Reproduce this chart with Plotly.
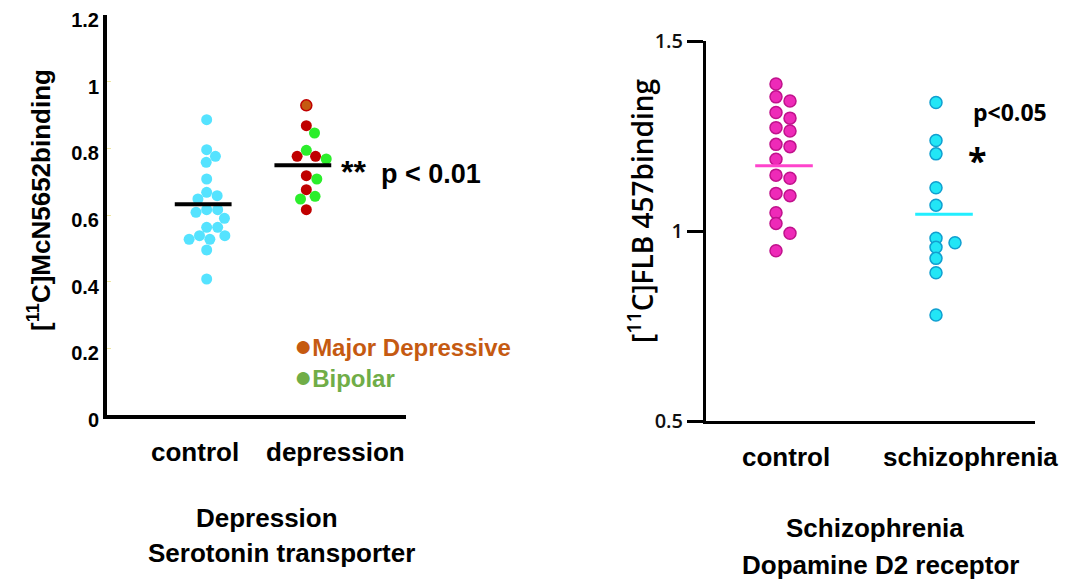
import numpy as np
import plotly.graph_objects as go

W, H = 1068, 585
PAGE_OFF = 8   # default page margin around the figure div

# ---------------- data ----------------
# Left panel: Depression / serotonin transporter ([11C]McN5652 binding)
dep_categories = ["control", "depression"]
dep_control = [0.886, 0.796, 0.776, 0.758, 0.708, 0.668, 0.658, 0.648, 0.616, 0.616,
               0.608, 0.590, 0.563, 0.563, 0.538, 0.538, 0.527, 0.527, 0.495, 0.408]
dep_other = [0.929]                       # top point (orange with red rim)
dep_major = [0.868, 0.776, 0.776, 0.718, 0.676, 0.616]
dep_bipolar = [0.846, 0.794, 0.768, 0.708, 0.656, 0.648]
dep_means = [0.632, 0.749]
dep_tickvals = [0, 0.2, 0.4, 0.6, 0.8, 1.0, 1.2]
dep_ticktext = ["0", "0.2", "0.4", "0.6", "0.8", "1", "1.2"]

# Right panel: Schizophrenia / dopamine D2 receptor ([11C]FLB 457 binding)
scz_categories = ["control", "schizophrenia"]
scz_control = [1.387, 1.353, 1.342, 1.312, 1.297, 1.272, 1.263, 1.228, 1.222, 1.189,
               1.147, 1.139, 1.099, 1.093, 1.048, 1.020, 0.994, 0.948]
scz_patient = [1.338, 1.238, 1.203, 1.114, 1.068, 0.981, 0.969, 0.957, 0.928, 0.890, 0.779]
scz_means = [1.172, 1.044]
scz_tickvals = [0.5, 1.0, 1.5]
scz_ticktext = ["0.5", "1", "1.5"]

# ---------------- layout geometry (screen pixels) ----------------
L_X0, L_X1, L_Y0, L_Y1 = 107, 406, 415, 15      # left plot box
R_X0, R_X1, R_Y0, R_Y1 = 706, 1035, 421, 41     # right plot box
L_XRANGE = [0, 3]
R_XRANGE = [0.5625, 0.5625 + (R_X1 - R_X0) / 160.0]
L_YRANGE = [0, 1.2]
R_YRANGE = [0.5, 1.5]

l_xpx = (L_X1 - L_X0) / (L_XRANGE[1] - L_XRANGE[0])
r_xpx = (R_X1 - R_X0) / (R_XRANGE[1] - R_XRANGE[0])
l_ypx = (L_Y0 - L_Y1) / (L_YRANGE[1] - L_YRANGE[0])
r_ypx = (R_Y0 - R_Y1) / (R_YRANGE[1] - R_YRANGE[0])


def swarm(values, d_px, ypx, prefer=1, step=None):
    """Simple beeswarm: pixel offsets so markers do not overlap.
    If step is given, offsets are restricted to multiples of step (column layout)."""
    vals = np.asarray(values, dtype=float)
    order = np.argsort(-vals, kind="stable")
    placed = []
    offs = np.zeros(len(vals))
    for i in order:
        y = vals[i] * ypx
        if step is None:
            cands = [0.0]
            for yy, xx in placed:
                dy = abs(y - yy)
                if dy < d_px:
                    dx = np.sqrt(d_px ** 2 - dy ** 2)
                    cands += [xx + dx, xx - dx]
            cands = sorted(set(cands), key=lambda c: (abs(c), -prefer * c))

            def ok(c):
                return all((c - xx) ** 2 + (y - yy) ** 2 >= d_px ** 2 - 1e-6 for yy, xx in placed)
        else:
            cands = [0.0]
            for k in range(1, 6):
                cands += [prefer * k * step, -prefer * k * step]

            def ok(c):
                return all(abs(c - xx) > 1e-6 or abs(y - yy) >= d_px for yy, xx in placed)
        for c in cands:
            if ok(c):
                offs[i] = c
                break
        placed.append((y, offs[i]))
    return offs


fig = go.Figure()

# ---------- left panel ----------
off = swarm(dep_control, 11, l_ypx) / l_xpx
fig.add_trace(go.Scatter(x=1 + off, y=dep_control, mode="markers", xaxis="x", yaxis="y",
                         marker=dict(size=11, color="#55E3FF", line=dict(width=0)),
                         showlegend=False, hoverinfo="y"))

dep_all = dep_other + dep_major + dep_bipolar
off = swarm(dep_all, 11, l_ypx) / l_xpx
n1, n2 = len(dep_other), len(dep_major)
groups = [
    (slice(0, n1), "#C55A11", "#C00000", 1.5),
    (slice(n1, n1 + n2), "#C00000", "#C00000", 0),
    (slice(n1 + n2, None), "#2BEE2B", "#2BEE2B", 0),
]
for sl, fill, rim, lw in groups:
    fig.add_trace(go.Scatter(x=(2 + off)[sl], y=np.asarray(dep_all)[sl], mode="markers",
                             xaxis="x", yaxis="y",
                             marker=dict(size=11, color=fill, line=dict(width=lw, color=rim)),
                             showlegend=False, hoverinfo="y"))

for i, m in enumerate(dep_means):
    c = i + 1
    fig.add_trace(go.Scatter(x=[c - 0.32, c + 0.25], y=[m, m], mode="lines", xaxis="x", yaxis="y",
                             line=dict(color="black", width=4), showlegend=False, hoverinfo="skip"))

# ---------- right panel ----------
off = swarm(scz_control, 10, r_ypx, step=14) / r_xpx
fig.add_trace(go.Scatter(x=1 + off, y=scz_control, mode="markers", xaxis="x2", yaxis="y2",
                         marker=dict(size=12, color="#EE2AB8", line=dict(width=1.5, color="#C0128C")),
                         showlegend=False, hoverinfo="y"))
off = swarm(scz_patient, 8, r_ypx, step=19) / r_xpx
fig.add_trace(go.Scatter(x=2 + off, y=scz_patient, mode="markers", xaxis="x2", yaxis="y2",
                         marker=dict(size=12, color="#22E6F6", line=dict(width=1.5, color="#109FD0")),
                         showlegend=False, hoverinfo="y"))
mean_cols = ["#FF44CC", "#22EEFF"]
for i, m in enumerate(scz_means):
    c = i + 1
    fig.add_trace(go.Scatter(x=[c - 0.13, c + 0.23], y=[m, m], mode="lines", xaxis="x2", yaxis="y2",
                             line=dict(color=mean_cols[i], width=3), showlegend=False, hoverinfo="skip"))


# ---------- axes ----------
def px2paper_x(p):
    return (p - PAGE_OFF) / W


def px2paper_y(p):
    return 1 - (p - PAGE_OFF) / H


ARIAL = "Liberation Sans, Arial, sans-serif"
OPEN = "Open Sans, Noto Sans, sans-serif"

fig.update_layout(
    width=W, height=H, margin=dict(l=0, r=0, t=0, b=0, autoexpand=False),
    paper_bgcolor="white", plot_bgcolor="white",
    xaxis=dict(domain=[px2paper_x(L_X0), px2paper_x(L_X1)], range=L_XRANGE, automargin=False,
               showline=True, linewidth=4, linecolor="black", showgrid=False, zeroline=False,
               showticklabels=False, ticks="", anchor="y"),
    yaxis=dict(domain=[px2paper_y(L_Y0), px2paper_y(L_Y1)], range=L_YRANGE, automargin=False,
               showline=True, linewidth=4, linecolor="black", showgrid=False, zeroline=False,
               tickvals=dep_tickvals, ticktext=dep_ticktext, ticks="inside", ticklen=4,
               tickwidth=1, tickcolor="#EEE6A0", ticklabeloverflow="allow", ticklabelshift=5,
               tickfont=dict(family=ARIAL, size=20, color="black", weight="bold"), anchor="x"),
    xaxis2=dict(domain=[px2paper_x(R_X0), px2paper_x(R_X1)], range=R_XRANGE, automargin=False,
                showline=True, linewidth=3, linecolor="black", showgrid=False, zeroline=False,
                showticklabels=False, ticks="", anchor="y2"),
    yaxis2=dict(domain=[px2paper_y(R_Y0), px2paper_y(R_Y1)], range=R_YRANGE, automargin=False,
                showline=True, linewidth=3, linecolor="black", showgrid=False, zeroline=False,
                tickvals=scz_tickvals, ticktext=scz_ticktext, ticks="outside", ticklen=16,
                tickwidth=3, tickcolor="black", ticklabeloverflow="allow",
                tickfont=dict(family=OPEN, size=20, color="#111", weight=600), anchor="x2"),
)


def note(text, x, y, size, family=ARIAL, color="black", xanchor="center", angle=0, **kw):
    font = dict(family=family, size=size, color=color)
    font.update(kw)
    return dict(text=text, x=px2paper_x(x), y=px2paper_y(y), xref="paper", yref="paper",
                xanchor=xanchor, yanchor="middle", showarrow=False, textangle=angle, font=font,
                align="left")


ann = []
# category labels
for i, (lab, sh) in enumerate(zip(dep_categories, [-12, 29])):
    ann.append(dict(text="<b>%s</b>" % lab, x=i + 1, xref="x", xshift=sh,
                    y=px2paper_y(452), yref="paper", showarrow=False, xanchor="center",
                    yanchor="middle", font=dict(family=ARIAL, size=26, color="black")))
for i, (lab, sh) in enumerate(zip(scz_categories, [10, 34])):
    ann.append(dict(text="<b>%s</b>" % lab, x=i + 1, xref="x2", xshift=sh,
                    y=px2paper_y(457), yref="paper", showarrow=False, xanchor="center",
                    yanchor="middle", font=dict(family=ARIAL, size=26, color="black")))

# axis titles
ann.append(note("<b>[<sup>11</sup>C]McN5652binding</b>", 40, 200, 26, angle=-90))
ann.append(note("[<sup>11</sup>C]FLB 457binding", 640, 211, 28, family=OPEN, angle=-90, weight=600))

# significance texts
ann.append(note("<b><span style='font-size:32px'>**</span>  p &lt; 0.01</b>", 339, 172, 27,
                xanchor="left"))
ann.append(note("<b>p&lt;0.05</b>", 971, 112, 23, family=OPEN, xanchor="left"))
ann.append(note("<b>*</b>", 977, 160, 34, family=OPEN))

# legend-like labels (one two-line text block)
legend_txt = ("<span style='color:#C55A11'><span style='font-size:30px'>●</span><b>Major Depressive</b></span>"
              "<br><span style='color:#70AD47'><span style='font-size:30px'>●</span><b>Bipolar</b></span>")
ann.append(note(legend_txt, 292, 361, 24, xanchor="left"))

# bottom titles
for txt, cx, cy in [("Depression", 267, 518), ("Serotonin transporter", 281, 553),
                    ("Schizophrenia", 875, 528), ("Dopamine D2 receptor", 880, 565)]:
    ann.append(note("<b>%s</b>" % txt, cx, cy, 26, xanchor="center"))

fig.update_layout(annotations=ann)
fig.write_html("out.html")
